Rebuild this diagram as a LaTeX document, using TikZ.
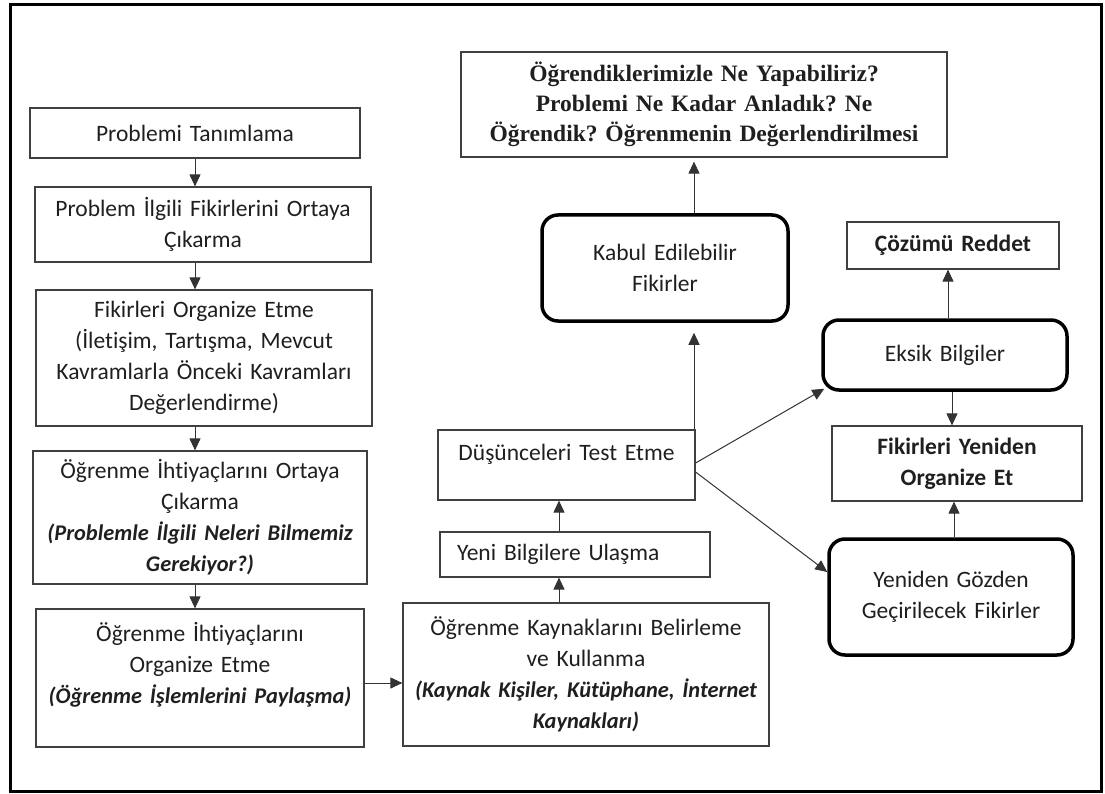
\documentclass[tikz,border=0pt]{standalone}
\usepackage{fontspec}
\setmainfont{Carlito}[Ligatures=CommonOff]
\newfontfamily\serifb{Liberation Serif}
\usetikzlibrary{arrows.meta,calc}
\newcommand\bitext[1]{{\fontsize{22.4}{31}\selectfont\bfseries\itshape #1}}
\frenchspacing
\begin{document}
\begin{tikzpicture}[x=1pt,y=-1pt,
  every node/.style={font=\fontsize{23.5}{31}\selectfont, text=black!88},
  box/.style={draw=black!75, line width=1.2pt, inner xsep=0pt, inner ysep=0pt, align=center},
  rbox/.style={draw=black, line width=3.5pt, rounded corners=16pt, inner xsep=0pt, inner ysep=0pt, align=center},
  arr/.style={draw=black!80, line width=1pt, -{Triangle[length=12pt,width=11pt]}}
]
\useasboundingbox (0,0) rectangle (1105,794);
\draw[line width=3pt] (10,5) rectangle (1101,791);

% left column
\node[box, text width=330pt, minimum height=50pt] (b1) at (195,133) {Problemi Tanımlama};
\node[box, text width=336pt, minimum height=75pt] (b2) at (203,224.5) {Problem İlgili Fikirlerini Ortaya\\Çıkarma};
\node[box, text width=336pt, minimum height=136pt] (b3) at (204,358) {Fikirleri Organize Etme\\(İletişim, Tartışma, Mevcut\\Kavramlarla Önceki Kavramları\\Değerlendirme)};
\node[box, text width=334pt, minimum height=133pt] (b4) at (200,517.5) {Öğrenme İhtiyaçlarını Ortaya\\Çıkarma\\\bitext{(Problemle İlgili Neleri Bilmemiz}\\\bitext{Gerekiyor?)}};
\node[box, text width=328pt, minimum height=138pt] (b5) at (200,678) {Öğrenme İhtiyaçlarını\\Organize Etme\\\bitext{(Öğrenme İşlemlerini Paylaşma)}\\\mbox{}};

% middle column
\node[box, text width=366pt, minimum height=143pt] (b6) at (586,674.5) {Öğrenme Kaynaklarını Belirleme\\ve Kullanma\\\bitext{(Kaynak Kişiler, Kütüphane, İnternet}\\\bitext{Kaynakları)}};
\node[box, align=left, inner xsep=17pt, text width=236pt, minimum height=45pt] (b7) at (575,554.5) {Yeni Bilgilere Ulaşma};
\node[box, text width=257pt, minimum height=70pt] (b8) at (566.5,465) {Düşünceleri Test Etme\\[-6pt]\mbox{}};
\node[box, text width=486pt, minimum height=105pt, font=\fontsize{23.5}{30}\selectfont\serifb\bfseries] (top) at (704,104.5) {Öğrendiklerimizle Ne Yapabiliriz?\\Problemi Ne Kadar Anladık? Ne\\Öğrendik? Öğrenmenin Değerlendirilmesi};
\node[rbox, text width=246pt, minimum height=106pt] (kab) at (665,268) {Kabul Edilebilir\\Fikirler};

% right column
\node[box, text width=212pt, minimum height=47pt, font=\fontsize{23.5}{31}\selectfont\bfseries] (coz) at (953,245.5) {Çözümü Reddet};
\node[rbox, text width=244pt, minimum height=70pt] (eks) at (945,355) {Eksik Bilgiler};
\node[box, text width=250pt, minimum height=75pt, font=\fontsize{23.5}{31}\selectfont\bfseries] (fyo) at (957,463.5) {Fikirleri Yeniden\\Organize Et};
\node[rbox, text width=244pt, minimum height=116pt] (yen) at (951,597) {Yeniden Gözden\\Geçirilecek Fikirler};

\coordinate (mx) at (559,0);
\coordinate (tx) at (694,0);

% connectors
\draw[arr] (b1.south) -- (b1.south |- b2.north);
\draw[arr] (b2.south -| b1) -- (b3.north -| b1);
\draw[arr] (b3.south -| b1) -- (b4.north -| b1);
\draw[arr] (b4.south -| b1) -- (b5.north -| b1);
\draw[arr] ($(b5.east)+(0,5)$) -- ($(b6.west)+(0,8.5)$);
\draw[arr] (b6.north -| mx) -- (b7.south -| mx);
\draw[arr] (b7.north -| mx) -- (b8.south -| mx);
\draw[arr] (b8.north -| tx) -- ($(kab.south -| tx)+(0,10)$);
\draw[arr] (kab.north -| tx) -- ($(top.south -| tx)+(0,4)$);
\draw[arr] ($(b8.east)+(0,-2)$) -- ($(eks.south west)+(3,-3)$);
\draw[arr] ($(b8.east)+(0,7)$) -- ($(yen.west)+(0,-25)$);
\draw[arr] ([xshift=3pt]eks.north) -- ([xshift=3pt]eks.north |- coz.south);
\draw[arr] ([xshift=7pt]eks.south) -- ([xshift=7pt]eks.south |- fyo.north);
\draw[arr] ([xshift=3pt]yen.north) -- ([xshift=3pt]yen.north |- fyo.south);
\end{tikzpicture}
\end{document}
